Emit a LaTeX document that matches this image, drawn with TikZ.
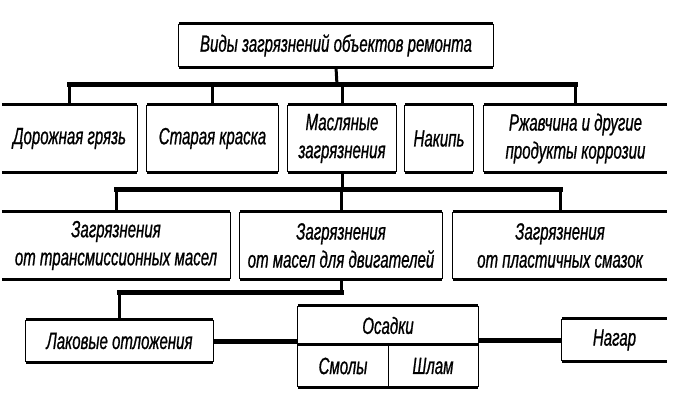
\documentclass[tikz,border=0pt]{standalone}
\usepackage{fontspec}
\setmainfont{Liberation Sans}[FakeStretch=0.64, FakeBold=0.8]
\newcommand\rims[1]{\draw[rim] (#1.north west) -- (#1.north east) (#1.south west) -- (#1.south east);}
\newcommand\lside[1]{\draw[side] (#1.north west) -- (#1.south west);}
\newcommand\rside[1]{\draw[side] (#1.north east) -- (#1.south east);}
\begin{document}
\begin{tikzpicture}[x=1pt,y=-1pt,
  lbl/.style={inner sep=0pt, align=center, font=\fontsize{23.5}{28}\selectfont\itshape},
  rim/.style={line width=3pt},
  side/.style={line width=1.3pt},
  bus/.style={line width=5pt, line cap=rect},
  drop/.style={line width=3pt}]
\useasboundingbox (0,0) rectangle (673,417);
\fill[white] (0,0) rectangle (673,417);

% top
\node[lbl, minimum width=314pt, minimum height=43pt] (top) at (336,45.5) {Виды загрязнений объектов ремонта};
% row 1
\node[lbl, minimum width=135pt, minimum height=67pt] (r1a) at (69.5,138.5) {Дорожная грязь};
\node[lbl, minimum width=131pt, minimum height=67pt] (r1b) at (212.5,138.5) {Старая краска};
\node[lbl, minimum width=108pt, minimum height=67pt] (r1c) at (342,138.5) {Масляные\\загрязнения};
\node[lbl, minimum width=68pt, minimum height=67pt] (r1d) at (439,138.5) {Накипь};
\node[lbl, minimum width=183pt, minimum height=67pt] (r1e) at (575.5,138.5) {Ржавчина и другие\\продукты коррозии};
% row 2
\node[lbl, minimum width=228pt, minimum height=67pt] (r2a) at (116,245.5) {Загрязнения\\от трансмиссионных масел};
\node[lbl, minimum width=202pt, minimum height=67pt] (r2b) at (341,245.5) {Загрязнения\\от масел для двигателей};
\node[lbl, minimum width=214pt, minimum height=67pt] (r2c) at (560,245.5) {Загрязнения\\от пластичных смазок};
% row 3
\node[lbl, minimum width=187pt, minimum height=42pt] (r3a) at (119.5,341) {Лаковые отложения};
\node[minimum width=180pt, minimum height=81pt, inner sep=0pt] (os) at (388,346.5) {};
\node[lbl, minimum width=180pt, minimum height=39pt] (ost) at (388,325.5) {Осадки};
\node[lbl, minimum width=90pt, minimum height=42pt] (sm) at (343,366) {Смолы};
\node[lbl, minimum width=90pt, minimum height=42pt] (sh) at (433,366) {Шлам};
\node[lbl, minimum width=105pt, minimum height=42pt] (nag) at (614.5,340) {Нагар};

% frames
\rims{top}\lside{top}\rside{top}
\rims{r1a}\rside{r1a}
\rims{r1b}\lside{r1b}\rside{r1b}
\rims{r1c}\lside{r1c}\rside{r1c}
\rims{r1d}\lside{r1d}\rside{r1d}
\rims{r1e}\lside{r1e}
\rims{r2a}\rside{r2a}
\rims{r2b}\lside{r2b}\rside{r2b}
\rims{r2c}\lside{r2c}
\rims{r3a}\lside{r3a}\rside{r3a}
\rims{os}\lside{os}\rside{os}
\draw[rim] (os.west |- sm.north) -- (os.east |- sm.north);
\draw[side] (sm.north east) -- (sm.south east);
\rims{nag}\lside{nag}

% level 1 connectors
\coordinate (b1) at (337,85);
\draw[drop] (top.south) -- (b1);
\draw[bus] (r1a.north |- b1) -- (r1e.north |- b1);
\foreach \n in {r1a,r1b,r1c,r1e} \draw[drop] (\n.north |- b1) -- (\n.north);
% level 2 connectors
\coordinate (b2) at (341,190);
\draw[drop] (r1c.south) -- (r1c.south |- b2);
\draw[bus] (r2a.north |- b2) -- (r2c.north |- b2);
\foreach \n in {r2a,r2b,r2c} \draw[drop] (\n.north |- b2) -- (\n.north);
% level 3 connectors
\coordinate (b3) at (342,293);
\draw[drop] (r2b.south) -- (r2b.south |- b3);
\draw[bus] (r2b.south |- b3) -- (r3a.north |- b3);
\draw[drop] (r3a.north |- b3) -- (r3a.north);
\draw[bus, line cap=butt] (r3a.east) -- (r3a.east -| os.west);
\draw[bus, line cap=butt] (nag.west -| os.east) -- (nag.west);
\end{tikzpicture}
\end{document}
